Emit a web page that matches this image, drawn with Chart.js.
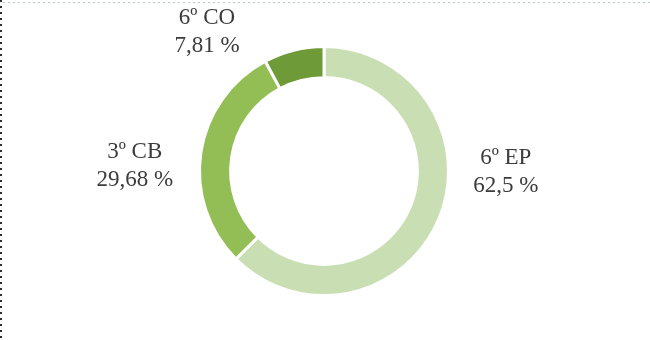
<!DOCTYPE html>
<html>
<head>
<meta charset="utf-8">
<script src="https://cdn.jsdelivr.net/npm/chart.js@4"></script>
<style>
  html, body { margin: 0; padding: 0; background: #fff; }
  #wrap { position: relative; width: 650px; height: 340px; }
</style>
</head>
<body>
<div id="wrap"><canvas id="ring"></canvas></div>
<script>
// 데이터
const categories = ['6º EP', '3º CB', '6º CO'];
const shares = [62.5, 29.68, 7.81];
const sliceColors = ['#c9dfb3', '#93be55', '#6f9a38'];

// 라벨 위치: 중심 기준, 바깥 반지름 단위
const labelSpots = [
  { dx: 1.46, dy: 0.01 },
  { dx: -1.52, dy: -0.04 },
  { dx: -0.94, dy: -1.12 },
];

function pctText(v) {
  return String(v).replace('.', ',') + ' %';
}

// 왼쪽/위쪽 점선 테두리
const framePlugin = {
  id: 'frame',
  beforeDraw(chart) {
    const { ctx, width } = chart;
    ctx.save();
    ctx.strokeStyle = '#b9c9c5';
    ctx.lineWidth = 1;
    ctx.setLineDash([2, 3]);
    ctx.beginPath();
    ctx.moveTo(3, 2.5);
    ctx.lineTo(width, 2.5);
    ctx.stroke();
    ctx.strokeStyle = '#2e2e2e';
    ctx.lineWidth = 2;
    ctx.setLineDash([2, 4]);
    ctx.beginPath();
    ctx.moveTo(1, 0);
    ctx.lineTo(1, chart.height);
    ctx.stroke();
    ctx.restore();
  },
};

// 카테고리 + 퍼센트 라벨
const labelPlugin = {
  id: 'sliceLabels',
  afterDatasetsDraw(chart) {
    const { ctx } = chart;
    const arcs = chart.getDatasetMeta(0).data;
    ctx.save();
    ctx.font = '23px "Liberation Serif", "Times New Roman", serif';
    ctx.fillStyle = '#3c3c3c';
    ctx.textAlign = 'center';
    ctx.textBaseline = 'middle';
    arcs.forEach((arc, i) => {
      const r = arc.outerRadius;
      const x = arc.x + labelSpots[i].dx * r;
      const y = arc.y + labelSpots[i].dy * r;
      ctx.fillText(categories[i], x, y - 14);
      ctx.fillText(pctText(shares[i]), x, y + 14);
    });
    ctx.restore();
  },
};

new Chart(document.getElementById('ring'), {
  type: 'doughnut',
  data: {
    labels: categories,
    datasets: [{
      data: shares,
      backgroundColor: sliceColors,
      borderColor: '#ffffff',
      borderWidth: 3,
    }],
  },
  options: {
    responsive: true,
    maintainAspectRatio: false,
    animation: false,
    cutout: '75%',
    layout: { padding: { top: 45, bottom: 43, left: 0, right: 2 } },
    plugins: {
      legend: { display: false },
      tooltip: { enabled: false },
    },
  },
  plugins: [framePlugin, labelPlugin],
});
</script>
</body>
</html>
